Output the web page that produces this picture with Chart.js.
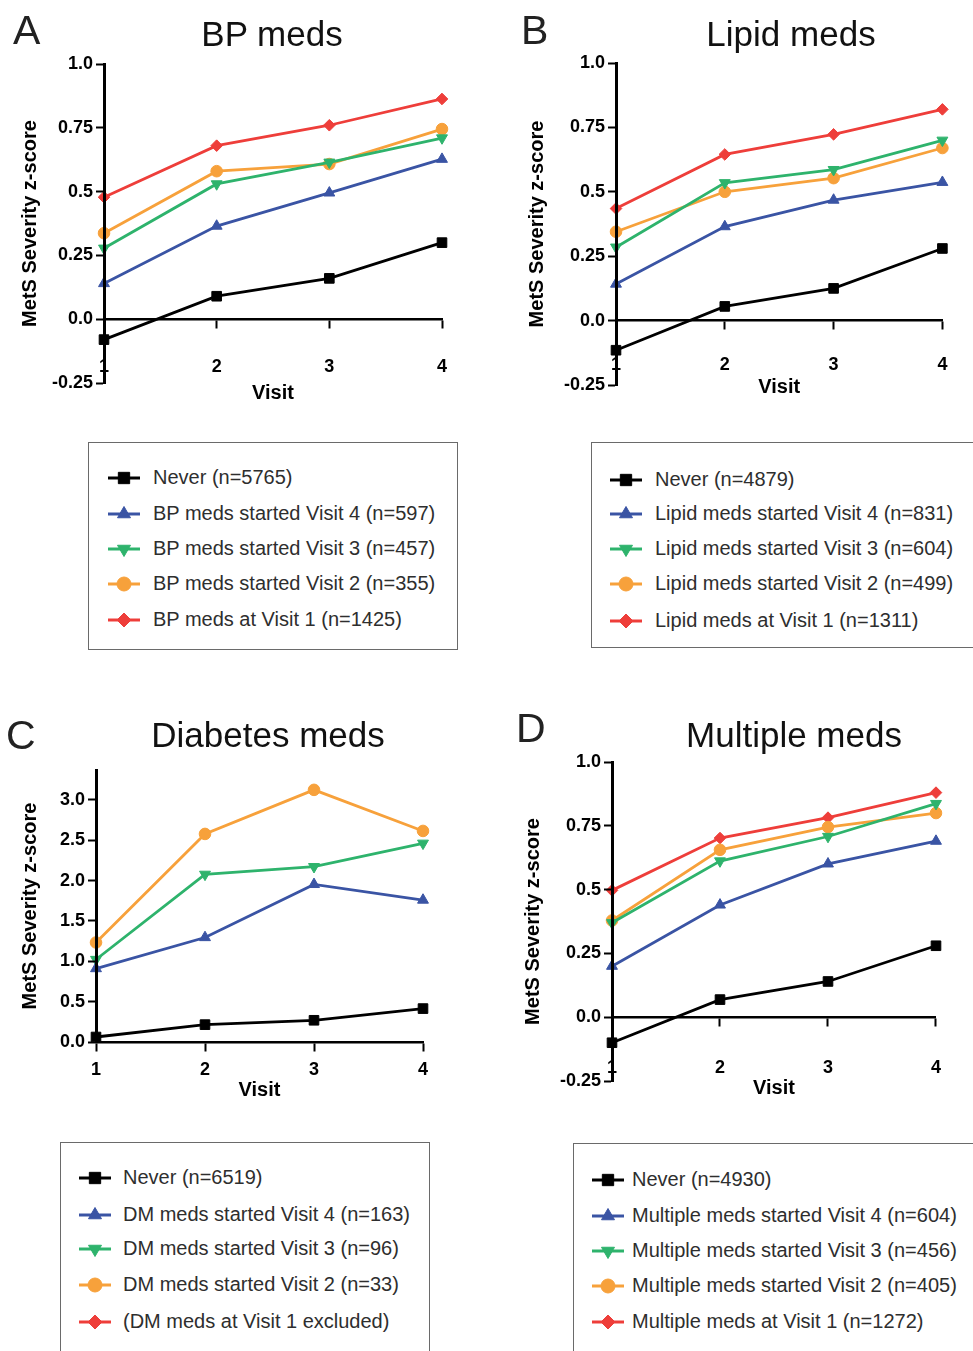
<!DOCTYPE html>
<html>
<head>
<meta charset="utf-8">
<script src="https://cdn.jsdelivr.net/npm/chart.js@4.4.0/dist/chart.umd.min.js"></script>
<style>
  html, body { margin: 0; padding: 0; background: #fff; }
  #page { position: relative; width: 973px; height: 1351px; overflow: hidden; background: #fff; }
  canvas.plot { position: absolute; z-index: 1; }
  .title { position: absolute; font-family: "Liberation Sans", Arial, sans-serif; font-size: 35px; line-height: 35px; color: #111; white-space: nowrap; transform: translateX(-50%); z-index: 2; }
  .letter { position: absolute; font-family: "Liberation Sans", Arial, sans-serif; font-size: 41px; line-height: 41px; color: #222; z-index: 2; }
  .legend { position: absolute; border: 1.5px solid #6a6a6a; box-sizing: border-box; z-index: 2; }
  .swatch { position: absolute; z-index: 3; }
  .entry { position: absolute; height: 24px; line-height: 24px; font-family: "Liberation Sans", Arial, sans-serif; font-size: 20px; color: #2e2e2e; white-space: nowrap; z-index: 3; }
</style>
</head>
<body>
<div id="page"></div>
<script>
// data
const visits = ['1', '2', '3', '4'];

const seriesColors = ['#000000', '#3a54a4', '#2eb36c', '#f7a13b', '#ee3e3a'];
const seriesShapes = ['rect', 'triangle', 'triangleDown', 'circle', 'rectRot'];

const bpNever = [-0.08, 0.09, 0.16, 0.30];
const bpVisit4 = [0.14, 0.365, 0.495, 0.627];
const bpVisit3 = [0.278, 0.53, 0.615, 0.71];
const bpVisit2 = [0.337, 0.58, 0.608, 0.745];
const bpVisit1 = [0.478, 0.68, 0.76, 0.863];

const lipidNever = [-0.115, 0.055, 0.125, 0.28];
const lipidVisit4 = [0.142, 0.365, 0.468, 0.537];
const lipidVisit3 = [0.285, 0.535, 0.586, 0.70];
const lipidVisit2 = [0.345, 0.50, 0.553, 0.67];
const lipidVisit1 = [0.435, 0.645, 0.723, 0.82];

const dmNever = [0.062, 0.215, 0.269, 0.414];
const dmVisit4 = [0.91, 1.295, 1.953, 1.759];
const dmVisit3 = [1.022, 2.077, 2.172, 2.462];
const dmVisit2 = [1.233, 2.578, 3.124, 2.615];
const dmVisit1 = [null, null, null, null];

const multiNever = [-0.10, 0.069, 0.14, 0.28];
const multiVisit4 = [0.20, 0.44, 0.601, 0.69];
const multiVisit3 = [0.37, 0.612, 0.708, 0.837];
const multiVisit2 = [0.379, 0.656, 0.745, 0.80];
const multiVisit1 = [0.497, 0.702, 0.782, 0.88];

const bpLabels = ['Never (n=5765)', 'BP meds started Visit 4 (n=597)', 'BP meds started Visit 3 (n=457)', 'BP meds started Visit 2 (n=355)', 'BP meds at Visit 1 (n=1425)'];
const lipidLabels = ['Never (n=4879)', 'Lipid meds started Visit 4 (n=831)', 'Lipid meds started Visit 3 (n=604)', 'Lipid meds started Visit 2 (n=499)', 'Lipid meds at Visit 1 (n=1311)'];
const dmLabels = ['Never (n=6519)', 'DM meds started Visit 4 (n=163)', 'DM meds started Visit 3 (n=96)', 'DM meds started Visit 2 (n=33)', '(DM meds at Visit 1 excluded)'];
const multiLabels = ['Never (n=4930)', 'Multiple meds started Visit 4 (n=604)', 'Multiple meds started Visit 3 (n=456)', 'Multiple meds started Visit 2 (n=405)', 'Multiple meds at Visit 1 (n=1272)'];

const zTicks = [-0.25, 0, 0.25, 0.5, 0.75, 1.0];
const dmTicks = [0, 0.5, 1.0, 1.5, 2.0, 2.5, 3.0];

const panels = [
  { letter: 'A', title: 'BP meds', series: [bpNever, bpVisit4, bpVisit3, bpVisit2, bpVisit1], labels: bpLabels,
    yMin: -0.25, yMax: 1.0, yTicks: zTicks,
    cx: 0, cy: 0, w: 480, h: 430, area: { l: 104, t: 64, r: 442, b: 383 }, yTitleX: 30, xLabelY: 367, xTitleY: 393,
    titleX: 272, titleBase: 46, letterX: 13, letterBase: 45,
    legend: { l: 88, t: 442, r: 458, b: 650, mx: 108, tx: 153, rows: [478, 514, 549, 584, 620] } },
  { letter: 'B', title: 'Lipid meds', series: [lipidNever, lipidVisit4, lipidVisit3, lipidVisit2, lipidVisit1], labels: lipidLabels,
    yMin: -0.25, yMax: 1.0, yTicks: zTicks,
    cx: 490, cy: 0, w: 483, h: 430, area: { l: 616, t: 63, r: 954, b: 385 }, yTitleX: 537, xLabelY: 365, xTitleY: 387,
    titleX: 791, titleBase: 46, letterX: 521, letterBase: 45,
    legend: { l: 591, t: 442, r: 976, b: 648, mx: 610, tx: 655, rows: [480, 514, 549, 584, 621] } },
  { letter: 'C', title: 'Diabetes meds', series: [dmNever, dmVisit4, dmVisit3, dmVisit2, dmVisit1], labels: dmLabels,
    yMin: 0, yMax: 3.37, yTicks: dmTicks,
    cx: 0, cy: 690, w: 480, h: 430, area: { l: 96, t: 770, r: 423, b: 1042 }, yTitleX: 30, xLabelY: 1070, xTitleY: 1090,
    titleX: 268, titleBase: 747, letterX: 6, letterBase: 750,
    legend: { l: 60, t: 1142, r: 430, b: 1362, mx: 79, tx: 123, rows: [1178, 1215, 1249, 1285, 1322] } },
  { letter: 'D', title: 'Multiple meds', series: [multiNever, multiVisit4, multiVisit3, multiVisit2, multiVisit1], labels: multiLabels,
    yMin: -0.25, yMax: 1.0, yTicks: zTicks,
    cx: 490, cy: 690, w: 483, h: 430, area: { l: 612, t: 762, r: 946, b: 1081 }, yTitleX: 533, xLabelY: 1068, xTitleY: 1088,
    titleX: 794, titleBase: 747, letterX: 516, letterBase: 743,
    legend: { l: 573, t: 1143, r: 976, b: 1362, mx: 592, tx: 632, rows: [1180, 1216, 1251, 1286, 1322] } }
];

const axisFont = '"Liberation Sans", Arial, sans-serif';
const page = document.getElementById('page');

function pointStyleOf(shape) {
  return shape === 'triangleDown' ? 'triangle' : shape;
}
function rotationOf(shape) {
  return shape === 'triangleDown' ? 180 : 0;
}
function radiusOf(shape) {
  return { rect: 6.8, triangle: 6.3, triangleDown: 6.3, circle: 5.8, rectRot: 5.8 }[shape];
}

function fmtTick(v, ticks) {
  if (ticks === dmTicks) return v.toFixed(1);
  if (v === 0) return '0.0';
  if (v === 1) return '1.0';
  return String(v);
}

function buildChart(p) {
  const canvas = document.createElement('canvas');
  canvas.className = 'plot';
  canvas.width = p.w;
  canvas.height = p.h;
  canvas.style.left = p.cx + 'px';
  canvas.style.top = p.cy + 'px';
  canvas.style.width = p.w + 'px';
  canvas.style.height = p.h + 'px';
  page.appendChild(canvas);

  const tickSize = 18, xTitleSize = 20, yTitleSize = 20;
  const tickLen = 8;
  const zeroY = p.area.b - (0 - p.yMin) / (p.yMax - p.yMin) * (p.area.b - p.area.t);
  const xPad = p.xLabelY - zeroY - tickLen - tickSize * 1.2 / 2;
  const xHeight = p.xTitleY - zeroY + xTitleSize * 1.2 / 2;
  const yWidth = p.area.l - p.cx;
  const yTitlePad = p.yTitleX - p.cx - yTitleSize * 1.2 / 2;

  const datasets = p.series.map((vals, i) => ({
    label: p.labels[i],
    data: vals,
    borderColor: seriesColors[i],
    backgroundColor: seriesColors[i],
    pointBackgroundColor: seriesColors[i],
    pointBorderColor: seriesColors[i],
    pointStyle: pointStyleOf(seriesShapes[i]),
    rotation: rotationOf(seriesShapes[i]),
    pointRadius: radiusOf(seriesShapes[i]),
    pointBorderWidth: 1,
    borderWidth: 2.8,
    tension: 0,
    fill: false
  }));

  new Chart(canvas, {
    type: 'line',
    data: { labels: visits, datasets: datasets },
    options: {
      responsive: false,
      animation: false,
      devicePixelRatio: 1,
      layout: {
        // the x axis sits at y = 0 and takes no layout room
        padding: {
          left: 0,
          top: p.area.t - p.cy,
          right: p.cx + p.w - p.area.r,
          bottom: p.cy + p.h - p.area.b
        }
      },
      plugins: { legend: { display: false }, tooltip: { enabled: false }, title: { display: false } },
      scales: {
        x: {
          type: 'category',
          offset: false,
          position: { y: 0 },
          afterFit: s => { s.height = xHeight; },
          grid: { drawOnChartArea: false, drawTicks: true, tickLength: tickLen, tickWidth: 2, tickColor: '#000', color: '#000' },
          border: { display: true, color: '#000', width: 2.5 },
          ticks: { z: 2, color: '#000', padding: xPad, maxRotation: 0, autoSkip: false, font: { family: axisFont, size: tickSize, weight: 'bold' } },
          title: { display: true, text: 'Visit', color: '#000', padding: { top: 0, bottom: 0 }, font: { family: axisFont, size: xTitleSize, weight: 'bold' } }
        },
        y: {
          min: p.yMin,
          max: p.yMax,
          afterFit: s => { s.width = yWidth; },
          afterBuildTicks: s => { s.ticks = p.yTicks.map(v => ({ value: v })); },
          grid: { drawOnChartArea: false, drawTicks: true, tickLength: tickLen, tickWidth: 2, tickColor: '#000', color: '#000', z: 1 },
          border: { display: true, color: '#000', width: 3, z: 1 },
          ticks: { color: '#000', padding: 3, callback: v => fmtTick(v, p.yTicks), font: { family: axisFont, size: tickSize, weight: 'bold' } },
          title: { display: true, text: 'MetS Severity z-score', color: '#000', padding: { top: yTitlePad, bottom: 0 }, font: { family: axisFont, size: yTitleSize, weight: 'bold' } }
        }
      }
    }
  });
}

function drawSwatch(ctx, i, w, h) {
  const color = seriesColors[i];
  const shape = seriesShapes[i];
  ctx.strokeStyle = color;
  ctx.fillStyle = color;
  ctx.lineWidth = 3;
  ctx.beginPath();
  ctx.moveTo(0, h / 2);
  ctx.lineTo(w, h / 2);
  ctx.stroke();
  ctx.lineWidth = 1;
  const opts = { pointStyle: pointStyleOf(shape), rotation: rotationOf(shape), radius: radiusOf(shape) + 1.2, borderWidth: 1 };
  if (Chart.helpers && Chart.helpers.drawPoint) {
    Chart.helpers.drawPoint(ctx, opts, w / 2, h / 2);
  } else {
    ctx.beginPath();
    ctx.arc(w / 2, h / 2, opts.radius, 0, Math.PI * 2);
    ctx.fill();
  }
}

function buildLegend(p) {
  const L = p.legend;
  const box = document.createElement('div');
  box.className = 'legend';
  box.style.left = L.l + 'px';
  box.style.top = L.t + 'px';
  box.style.width = (L.r - L.l) + 'px';
  box.style.height = (L.b - L.t) + 'px';
  page.appendChild(box);

  p.labels.forEach((text, i) => {
    const sw = document.createElement('canvas');
    const w = 32, h = 20;
    sw.width = w; sw.height = h;
    sw.className = 'swatch';
    sw.style.left = L.mx + 'px';
    sw.style.top = (L.rows[i] - h / 2) + 'px';
    page.appendChild(sw);
    drawSwatch(sw.getContext('2d'), i, w, h);

    const t = document.createElement('div');
    t.className = 'entry';
    t.textContent = text;
    t.style.left = L.tx + 'px';
    t.style.top = (L.rows[i] - 13) + 'px';
    page.appendChild(t);
  });
}

function buildText(p) {
  const t = document.createElement('div');
  t.className = 'title';
  t.textContent = p.title;
  t.style.left = p.titleX + 'px';
  t.style.top = (p.titleBase - 35 * 0.8465) + 'px';
  page.appendChild(t);

  const l = document.createElement('div');
  l.className = 'letter';
  l.textContent = p.letter;
  l.style.left = p.letterX + 'px';
  l.style.top = (p.letterBase - 41 * 0.8465) + 'px';
  page.appendChild(l);
}

panels.forEach(p => {
  buildText(p);
  buildLegend(p);
  buildChart(p);
});
</script>
</body>
</html>
